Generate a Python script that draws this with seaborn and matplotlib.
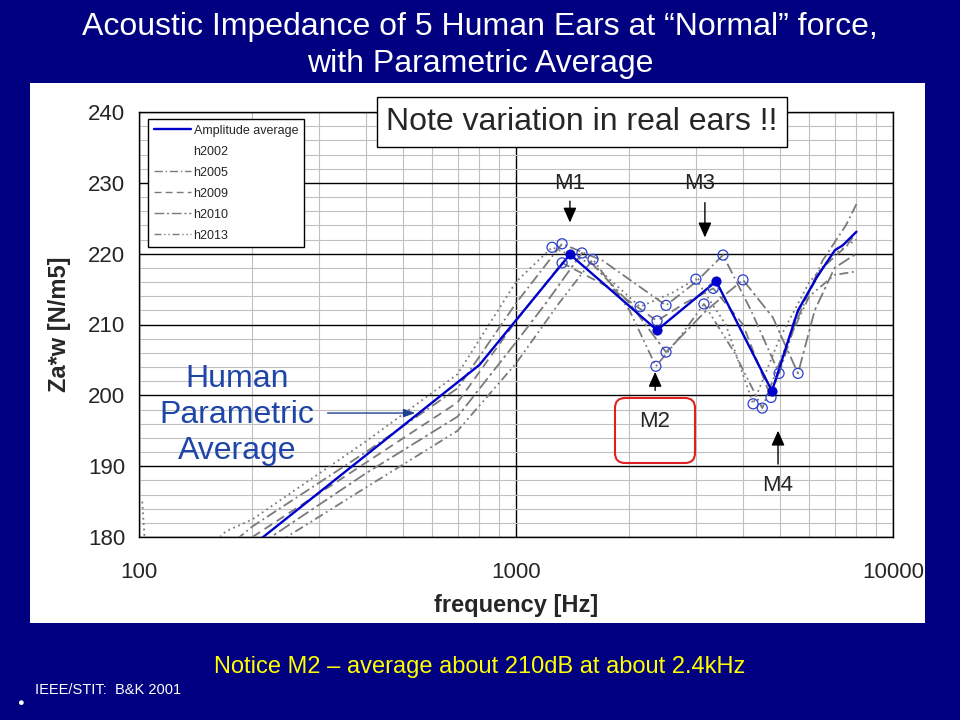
import matplotlib
matplotlib.use('Agg')
import matplotlib.pyplot as plt
import matplotlib.transforms as mtransforms
from matplotlib.lines import Line2D
from matplotlib.patches import Rectangle, FancyBboxPatch
from matplotlib.ticker import FixedLocator, NullFormatter, MultipleLocator
import pandas as pd
import seaborn as sns

# ---- data ----
avg_freq = [200, 800, 1390, 2366, 3396, 4774, 5598, 6285, 7015, 7365, 8000]
avg_val = [178.8, 204.3, 219.9, 209.2, 216.1, 200.6, 212.0, 216.7, 220.5, 221.2, 223.1]
# resonance points M1..M4 on the average
avg_res_freq = [1390, 2366, 3396, 4774]
avg_res_val = [219.9, 209.2, 216.1, 200.6]

h2002_freq = [102, 104, 150, 170, 200, 400, 700, 1000, 1246, 1600, 2133, 2600, 3000, 3600, 4255, 5000, 6000, 7000, 8000]
h2002_val = [185.0, 178.0, 178.0, 180.8, 182.5, 193.5, 203.0, 216.0, 220.9, 218.5, 212.5, 214.5, 216.4, 210.0, 198.8, 208.0, 216.0, 220.0, 222.0]

h2005_freq = [180, 200, 400, 700, 1000, 1325, 1700, 2500, 3000, 3540, 4200, 4986, 5500, 6500, 7500, 8000]
h2005_val = [179.5, 181.5, 192.0, 201.0, 213.0, 221.4, 219.0, 212.7, 216.0, 219.8, 212.0, 203.1, 210.0, 219.0, 224.0, 227.0]

h2009_freq = [200, 400, 700, 1000, 1325, 1800, 2366, 2800, 3336, 4000, 4747, 5500, 6500, 7500, 8000]
h2009_val = [180.0, 190.5, 199.0, 210.5, 218.7, 215.0, 210.5, 213.0, 215.1, 210.0, 199.7, 211.0, 218.0, 221.0, 223.0]

h2010_freq = [210, 400, 700, 1000, 1200, 1496, 2000, 2500, 3200, 4000, 4800, 5598, 6200, 7000, 8000]
h2010_val = [179.0, 189.0, 197.0, 207.5, 213.0, 220.1, 213.0, 206.1, 212.0, 216.3, 211.0, 203.1, 212.0, 218.0, 220.0]

h2013_freq = [230, 400, 700, 1000, 1300, 1600, 2000, 2350, 2700, 3152, 3800, 4500, 5200, 6000, 7000, 8000]
h2013_val = [179.0, 187.0, 195.0, 204.5, 213.0, 219.2, 212.0, 204.1, 208.0, 212.9, 206.0, 198.2, 207.0, 214.0, 217.0, 217.5]

# individual-ear resonance points (open circles)
res_freq = [1246, 1325, 1325, 1496, 1600,
            2133, 2500, 2366, 2500, 2350,
            3000, 3540, 3152, 4000, 3336,
            4255, 4500, 4747, 4986, 5598]
res_val = [220.9, 221.4, 218.7, 220.1, 219.2,
           212.5, 212.7, 210.5, 206.1, 204.1,
           216.4, 219.8, 212.9, 216.3, 215.1,
           198.8, 198.2, 199.7, 203.1, 203.1]

ears = {
    'h2002': (h2002_freq, h2002_val, (0, (1, 2))),
    'h2005': (h2005_freq, h2005_val, (0, (6, 2, 1, 2))),
    'h2009': (h2009_freq, h2009_val, (0, (5, 3))),
    'h2010': (h2010_freq, h2010_val, (0, (7, 2, 1.5, 2))),
    'h2013': (h2013_freq, h2013_val, (0, (5, 2, 1, 2, 1, 2))),
}

sns.set_style('white')
plt.rcParams['font.family'] = ['Liberation Sans', 'DejaVu Sans']

NAVY = '#000080'
BLUE = '#0000cc'
GRAY = '#7a7a7a'

fig = plt.figure(figsize=(9.6, 7.2), dpi=100, facecolor=NAVY)
fig.patches.append(Rectangle((30 / 960, 1 - 623 / 720), 895 / 960, 540 / 720,
                             transform=fig.transFigure, facecolor='white',
                             edgecolor='none', zorder=-5))
ax = fig.add_axes([139 / 960, 1 - 537 / 720, 754 / 960, 425 / 720])
ax.set_facecolor('white')

for name, (fq, vals, ls) in ears.items():
    df = pd.DataFrame({'freq': fq, 'val': vals})
    sns.lineplot(data=df, x='freq', y='val', ax=ax, color=GRAY, lw=1.3,
                 linestyle=ls, estimator=None, sort=False, zorder=3)

avg_df = pd.DataFrame({'freq': avg_freq, 'val': avg_val})
sns.lineplot(data=avg_df, x='freq', y='val', ax=ax, color=BLUE, lw=1.7,
             estimator=None, sort=False, zorder=5)
sns.scatterplot(x=res_freq, y=res_val, ax=ax, s=52, facecolor='none',
                edgecolor='#2a3fd0', linewidth=0.9, zorder=6)
sns.scatterplot(x=avg_res_freq, y=avg_res_val, ax=ax, s=45, color=BLUE,
                edgecolor=BLUE, zorder=7)

ax.set_xscale('log')
ax.set_xlim(100, 10000)
ax.set_ylim(180, 240)
ax.yaxis.set_major_locator(MultipleLocator(10))
ax.yaxis.set_minor_locator(MultipleLocator(2))
ax.xaxis.set_major_locator(FixedLocator([100, 1000, 10000]))
ax.xaxis.set_minor_locator(FixedLocator([m * d for d in (100, 1000) for m in range(2, 10)]))
ax.xaxis.set_minor_formatter(NullFormatter())
ax.set_xticklabels(['100', '1000', '10000'])
ax.grid(which='minor', color='#c0c0c0', lw=0.8, zorder=1)
ax.grid(which='major', color='black', lw=1.0, zorder=2)
ax.set_axisbelow(True)
for sp in ax.spines.values():
    sp.set_color('black')
    sp.set_linewidth(1.0)
ax.tick_params(which='major', direction='inout', length=8, width=1, labelsize=16)
ax.tick_params(axis='x', which='major', pad=14)
ax.tick_params(axis='y', which='major', pad=6)
ax.tick_params(axis='x', which='minor', direction='inout', length=6, width=1)
ax.tick_params(axis='y', which='minor', length=0)

ax.set_xlabel('frequency [Hz]', fontsize=17, fontweight='bold', labelpad=8)
ax.set_ylabel('Za*w [N/m5]', fontsize=17, fontweight='bold', labelpad=12)

handles = [Line2D([], [], color=BLUE, lw=1.7), Line2D([], [], linestyle='none')] + \
          [Line2D([], [], color=GRAY, lw=1.0, linestyle=ls)
           for name, (_, _, ls) in ears.items() if name != 'h2002']
labels = ['Amplitude average'] + list(ears.keys())
leg = ax.legend(handles, labels, loc='upper left', bbox_to_anchor=(9 / 754, 1 - 7 / 425),
                fontsize=9, frameon=True, fancybox=False, edgecolor='black',
                framealpha=1, borderpad=0.45, labelspacing=0.72, handlelength=3.0,
                handletextpad=0.2, borderaxespad=0)
leg.get_frame().set_linewidth(1.0)
leg.set_zorder(10)

# annotations
ax.text(582 / 960, 1 - 122 / 720, 'Note variation in real ears !!', transform=fig.transFigure,
        fontsize=23, ha='center', va='center', zorder=11,
        bbox=dict(boxstyle='square,pad=0.3', fc='white', ec='black', lw=1))

arrow = dict(arrowstyle='-|>,head_width=0.4,head_length=0.9', color='black', lw=1)
ax.text(1390, 229.9, 'M1', fontsize=16, ha='center', va='center')
ax.annotate('', xy=(1390, 224.0), xytext=(1390, 227.8), arrowprops=arrow)
ax.text(3076, 229.9, 'M3', fontsize=16, ha='center', va='center')
ax.annotate('', xy=(3170, 221.9), xytext=(3170, 227.6), arrowprops=arrow)
ax.text(2339, 196.3, 'M2', fontsize=16, ha='center', va='center')
ax.annotate('', xy=(2339, 203.7), xytext=(2339, 200.3), arrowprops=arrow)
ax.text(4955, 187.3, 'M4', fontsize=16, ha='center', va='center')
ax.annotate('', xy=(4955, 195.4), xytext=(4955, 189.9), arrowprops=arrow)

fig.patches.append(FancyBboxPatch((615, 720 - 463), 80, 65,
                                  boxstyle='round,pad=0,rounding_size=10',
                                  transform=mtransforms.IdentityTransform(),
                                  fc='none', ec='#e02020', lw=1.5, zorder=20))

ax.text(237 / 960, 1 - 415 / 720, 'Human\nParametric\nAverage', transform=fig.transFigure,
        fontsize=23, color='#1f45a8', ha='center', va='center', linespacing=1.27, zorder=11)
ax.annotate('', xy=(550, 197.5), xytext=(311, 197.5),
            arrowprops=dict(arrowstyle='-|>,head_width=0.25,head_length=0.7',
                            color='#1f3f90', lw=1))

fig.text(0.5, 1 - 27 / 720, 'Acoustic Impedance of 5 Human Ears at \u201cNormal\u201d force,',
         color='white', fontsize=23, ha='center', va='center')
fig.text(0.5, 1 - 64 / 720, 'with Parametric Average',
         color='white', fontsize=23, ha='center', va='center')
fig.text(0.5, 1 - 667 / 720, 'Notice M2 \u2013 average about 210dB at about 2.4kHz',
         color='#ffff00', fontsize=17, ha='center', va='center')
fig.text(35 / 960, 1 - 690 / 720, 'IEEE/STIT:  B&K 2001', color='white', fontsize=10.5,
         ha='left', va='center')
fig.text(20 / 960, 1 - 703 / 720, '\u25cf', color='white', fontsize=8, ha='center', va='center')

fig.savefig('out.png', dpi=100, facecolor=NAVY)
